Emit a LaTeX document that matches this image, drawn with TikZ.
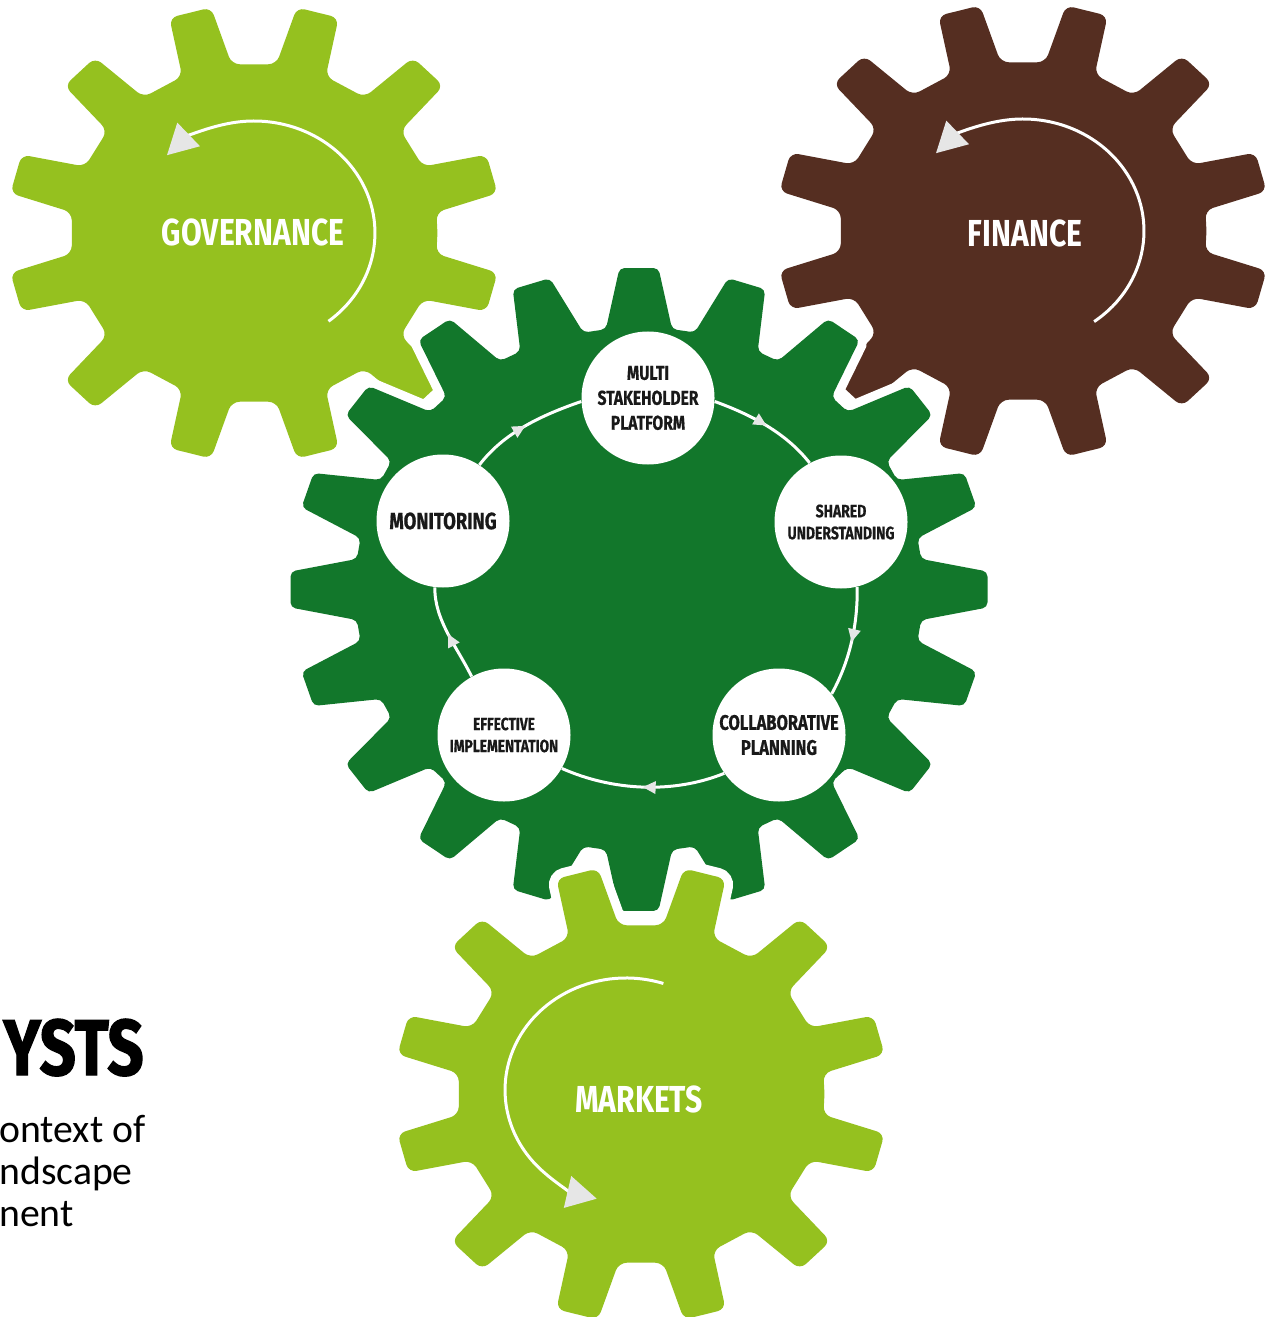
\documentclass[tikz,border=0pt]{standalone}
\usepackage{fontspec}
\setmainfont{Carlito}
\newfontfamily\cogfont[FakeStretch=0.8]{Fira Sans}
\newfontfamily\stagefont[FakeStretch=0.78,FakeBold=0.6]{Fira Sans}
\newfontfamily\headfont[FakeStretch=0.8,FakeBold=1.6]{Fira Sans}
\usetikzlibrary{arrows.meta,decorations.markings}
\definecolor{leaf}{HTML}{95C11F}
\definecolor{forest}{HTML}{12772B}
\definecolor{bark}{HTML}{552E21}
\definecolor{tipgrey}{HTML}{E6E6E6}
% style, teeth, phase, root r, tip r, root half angle, tip half angle
\newcommand{\drawgear}[7]{%
  \fill[#1] ({#3-180/#2}:#4) \foreach \k in {1,...,#2} {
    -- ({#3+360/#2*(\k-1)-#6}:#4) -- ({#3+360/#2*(\k-1)-#7}:#5)
    -- ({#3+360/#2*(\k-1)+#7}:#5) -- ({#3+360/#2*(\k-1)+#6}:#4)} -- cycle;}
\begin{document}
\begin{tikzpicture}[x=0.2mm,y=0.2mm,
  gearlabel/.style={text=white,font=\cogfont\bfseries\fontsize{21.4}{24}\selectfont},
  stage/.style={circle,fill=white,minimum size=26.6mm,inner sep=0pt,align=center,text=black!90},
  turn/.style={white,line width=0.6mm,-{Triangle[length=6mm,width=6.4mm,color=tipgrey]}},
  cycleline/.style={white,line width=0.6mm,looseness=0.87,postaction={decorate},
    decoration={markings,mark=at position 0.5 with {\arrow{Triangle[length=2.6mm,width=2.4mm,color=tipgrey]}}}}]
\useasboundingbox (0,0) rectangle (1268,-1317);

\begin{scope}[shift={(254,-233)},xscale=1.08]
  \drawgear{leaf,rounded corners=1.6mm}{12}{15}{170}{229}{8}{5}
  \draw[turn] (-52:112) arc[start angle=-52,end angle=136,radius=112];
\end{scope}
\node[gearlabel] (gov) at (253,-232) {GOVERNANCE};

\begin{scope}[shift={(1023,-231)},xscale=1.08]
  \drawgear{bark,rounded corners=1.6mm}{12}{15}{170}{229}{8}{5}
  \draw[turn] (-54:112) arc[start angle=-54,end angle=136,radius=112];
\end{scope}
\node[gearlabel] (fin) at (1025,-233) {FINANCE};

\begin{scope}[shift={(639,-589.5)},xscale=1.084]
  \drawgear{forest,rounded corners=1mm,preaction={draw=white,line width=3.6mm}}{20}{90}{262}{322}{6.7}{3.2}
\end{scope}

\node[stage,font=\stagefont\bfseries\fontsize{11.4}{14.2}\selectfont] (multi) at (648,-398) {MULTI\\STAKEHOLDER\\PLATFORM};
\node[stage,font=\stagefont\bfseries\fontsize{10.2}{12.5}\selectfont] (shared) at (841,-522) {SHARED\\UNDERSTANDING};
\node[stage,font=\stagefont\bfseries\fontsize{12}{14.2}\selectfont] (collab) at (779,-735) {COLLABORATIVE\\PLANNING};
\node[stage,font=\stagefont\bfseries\fontsize{10}{12.5}\selectfont] (effect) at (504,-735) {EFFECTIVE\\IMPLEMENTATION};
\node[stage,font=\stagefont\bfseries\fontsize{13.4}{15}\selectfont] (monitor) at (443,-521) {MONITORING};

\draw[cycleline] (multi.-3) to[out=-20,in=128] (shared.118);
\draw[cycleline] (shared.-76) to[out=-89,in=61] (collab.38);
\draw[cycleline] (collab.215) to[out=202,in=-24] (effect.-30);
\draw[cycleline] (effect.119) to[out=116,in=-91] (monitor.-97);
\draw[cycleline] (monitor.57) to[out=53,in=199] (multi.183);

\begin{scope}[shift={(641,-1094)},xscale=1.08]
  \drawgear{leaf,rounded corners=1.6mm,preaction={draw=white,line width=3.6mm}}{12}{15}{170}{229}{8}{5}
\end{scope}
\begin{scope}[shift={(626,-1090)},xscale=1.08]
  \draw[turn] (72:112) arc[start angle=72,end angle=256,radius=112];
\end{scope}
\node[gearlabel] (mkt) at (639,-1099) {MARKETS};

\node[anchor=base east,inner sep=0pt,text=black,font=\headfont\bfseries\fontsize{45}{50}\selectfont] (head) at (144,-1075) {YSTS};
\node[anchor=base west,inner sep=0pt,text=black,font=\fontsize{22.6}{26}\selectfont] (line1) at (-1,-1142) {ontext of};
\node[anchor=base west,inner sep=0pt,text=black,font=\fontsize{22.6}{26}\selectfont] (line2) at (-1,-1184) {ndscape};
\node[anchor=base west,inner sep=0pt,text=black,font=\fontsize{22.6}{26}\selectfont] (line3) at (-1,-1226) {nent};
\end{tikzpicture}
\end{document}
